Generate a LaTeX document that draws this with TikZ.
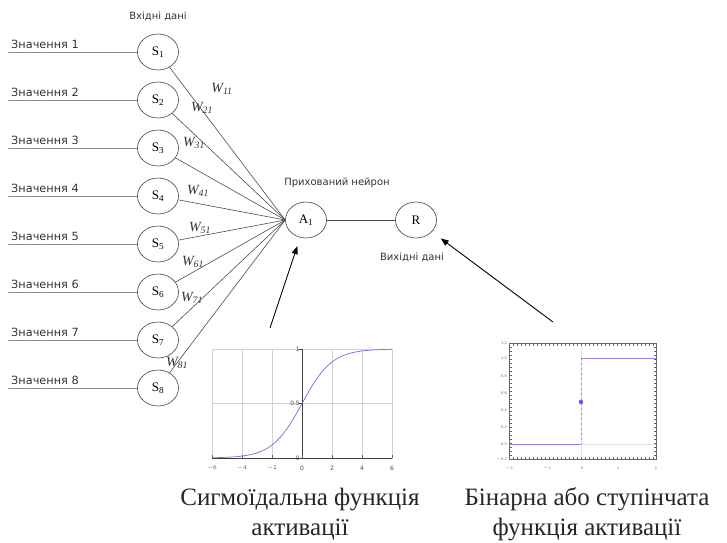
\documentclass[tikz,border=0pt]{standalone}
\usepackage{fontspec}
\setmainfont{Liberation Serif}
\newfontfamily\lab{DejaVu Sans}
\usetikzlibrary{arrows.meta,shapes.geometric}
\definecolor{curveblue}{RGB}{110,110,235}
\definecolor{stepblue}{RGB}{90,90,240}
\tikzset{
 neuron/.style={draw=black!75, line width=0.6pt, ellipse, minimum width=41pt, minimum height=36pt, inner sep=0pt, font=\fontsize{13}{13}\selectfont},
 lbl/.style={font=\lab\fontsize{10}{10}\selectfont, text=black!80, inner sep=0pt},
 inlbl/.style={font=\lab\fontsize{11.3}{11.3}\selectfont, text=black!80, inner sep=0pt},
 wlbl/.style={font=\fontsize{14}{14}\selectfont\itshape, text=black!80, inner sep=0pt},
 conn/.style={draw=black!70, line width=0.6pt},
 inputln/.style={draw=black!45, line width=1pt},
 arr/.style={draw=black, line width=0.9pt, -{Triangle[length=8pt,width=6pt]}},
 captxt/.style={font=\fontsize{25}{30}\selectfont, align=center, inner sep=0pt, text=black!85},
 ticklbl/.style={font=\lab\fontsize{6}{6}\selectfont, text=black!70, inner sep=1pt},
 tinylbl/.style={font=\lab\fontsize{3.5}{3.5}\selectfont, text=black!60, inner sep=1pt},
 gridln/.style={draw=black!18, line width=0.5pt},
}
\begin{document}
\begin{tikzpicture}[x=1pt,y=-1pt]
\useasboundingbox (0,0) rectangle (727,542);

% input layer
\node[lbl] (vh) at (158,16) {Вхідні дані};
\foreach \i in {1,...,8}{
  \pgfmathsetmacro\yy{52+48*(\i-1)}
  \node[neuron] (S\i) at (158,\yy) {S\textsubscript{\i}};
  \coordinate (L\i) at (8,\yy);
  \node[inlbl, anchor=base west] (V\i) at (11,\yy-4) {Значення \i};
  \draw[inputln] (L\i) -- (S\i);
}

% hidden and output neurons
\node[neuron] (A1) at (306,220) {A\textsubscript{1}};
\node[neuron] (R) at (416,220) {R};
\node[lbl] (hid) at (337,183) {Прихований нейрон};
\node[lbl] (out) at (412,257) {Вихідні дані};

\foreach \i in {1,...,8} \draw[conn] (S\i) -- (A1.west);
\draw[conn] (A1) -- (R);

% weights
\foreach \i/\px/\py in {1/222/89, 2/202/108, 3/194/143, 4/198/191, 5/200/228, 6/193/262, 7/192/298, 8/177/363}
  \node[wlbl] (W\i) at (\px,\py) {W\textsubscript{\i1}};

% sigmoid plot
\fill[white] (206,345) rectangle (396,475);
\draw[gridln] (212,349) rectangle (392,458);
\foreach \g in {242,272,332,362} \draw[gridln] (\g,349) -- (\g,458);
\draw[gridln] (212,403.5) -- (392,403.5);
\draw[black!75, line width=0.6pt] (302,349) -- (302,458);
\draw[black!75, line width=0.6pt] (212,458) -- (392,458);
\foreach \g in {212,242,272,302,332,362,392} \draw[black!60, line width=0.5pt] (\g,458) -- (\g,455);
\draw[black!75, line width=0.5pt] (302,349) -- (299,349) (302,403.5) -- (299,403.5);
\draw[curveblue, line width=0.7pt, domain=-6:6, samples=80, smooth] plot ({302+15*\x},{458-109/(1+exp(-\x))});
\node[ticklbl, anchor=east] (s1) at (301,349) {1};
\node[ticklbl, anchor=east] (s05) at (301,403.5) {0.5};
\node[ticklbl, anchor=east] (s0) at (301,458) {0};
\foreach \g/\v in {212/$-6$,242/$-4$,272/$-2$,302/0,332/2,362/4,392/6}
  \node[ticklbl] at (\g,468) {\v};

% step plot
\draw[black!12, line width=0.5pt] (581,343) -- (581,459);
\draw[black!12, line width=0.5pt] (581,444) -- (656,444);
\draw[black!60, line width=0.6pt] (509,343) rectangle (656,459);
\foreach \g in {509,513,...,656} {\draw[black!60, line width=0.5pt] (\g,343) -- (\g,345.5); \draw[black!60, line width=0.5pt] (\g,459) -- (\g,456.5);}
\foreach \g in {343,347,...,459} {\draw[black!60, line width=0.5pt] (509,\g) -- (511.5,\g); \draw[black!60, line width=0.5pt] (656,\g) -- (653.5,\g);}
\draw[stepblue!70, line width=0.7pt] (509,444) -- (581,444);
\draw[stepblue!70, line width=0.7pt] (581,358) -- (656,358);
\draw[stepblue!70, line width=0.7pt, dash pattern=on 2pt off 3pt] (581,358) -- (581,444);
\fill[stepblue] (581,402) circle (2.2pt);
\foreach \g/\v in {343/1.2,358/1.0,376/0.8,393/0.6,410/0.4,427/0.2,444/0.0,459/$-$0.2}
  \node[tinylbl, anchor=east] at (508,\g) {\v};
\foreach \g/\v in {509/$-$2,547/$-$1,582/0,618/1,656/2}
  \node[tinylbl] at (\g,468) {\v};

% arrows
\coordinate (t1) at (270,328);
\coordinate (t2) at (553,322);
\draw[arr, shorten >=9pt] (t1) -- (A1);
\draw[arr, shorten >=11pt] (t2) -- (R);

% captions
\node[captxt] (c1) at (300,514) {Сигмоїдальна функція\\активації};
\node[captxt] (c2) at (587,514) {Бінарна або ступінчата\\функція активації};
\end{tikzpicture}
\end{document}
